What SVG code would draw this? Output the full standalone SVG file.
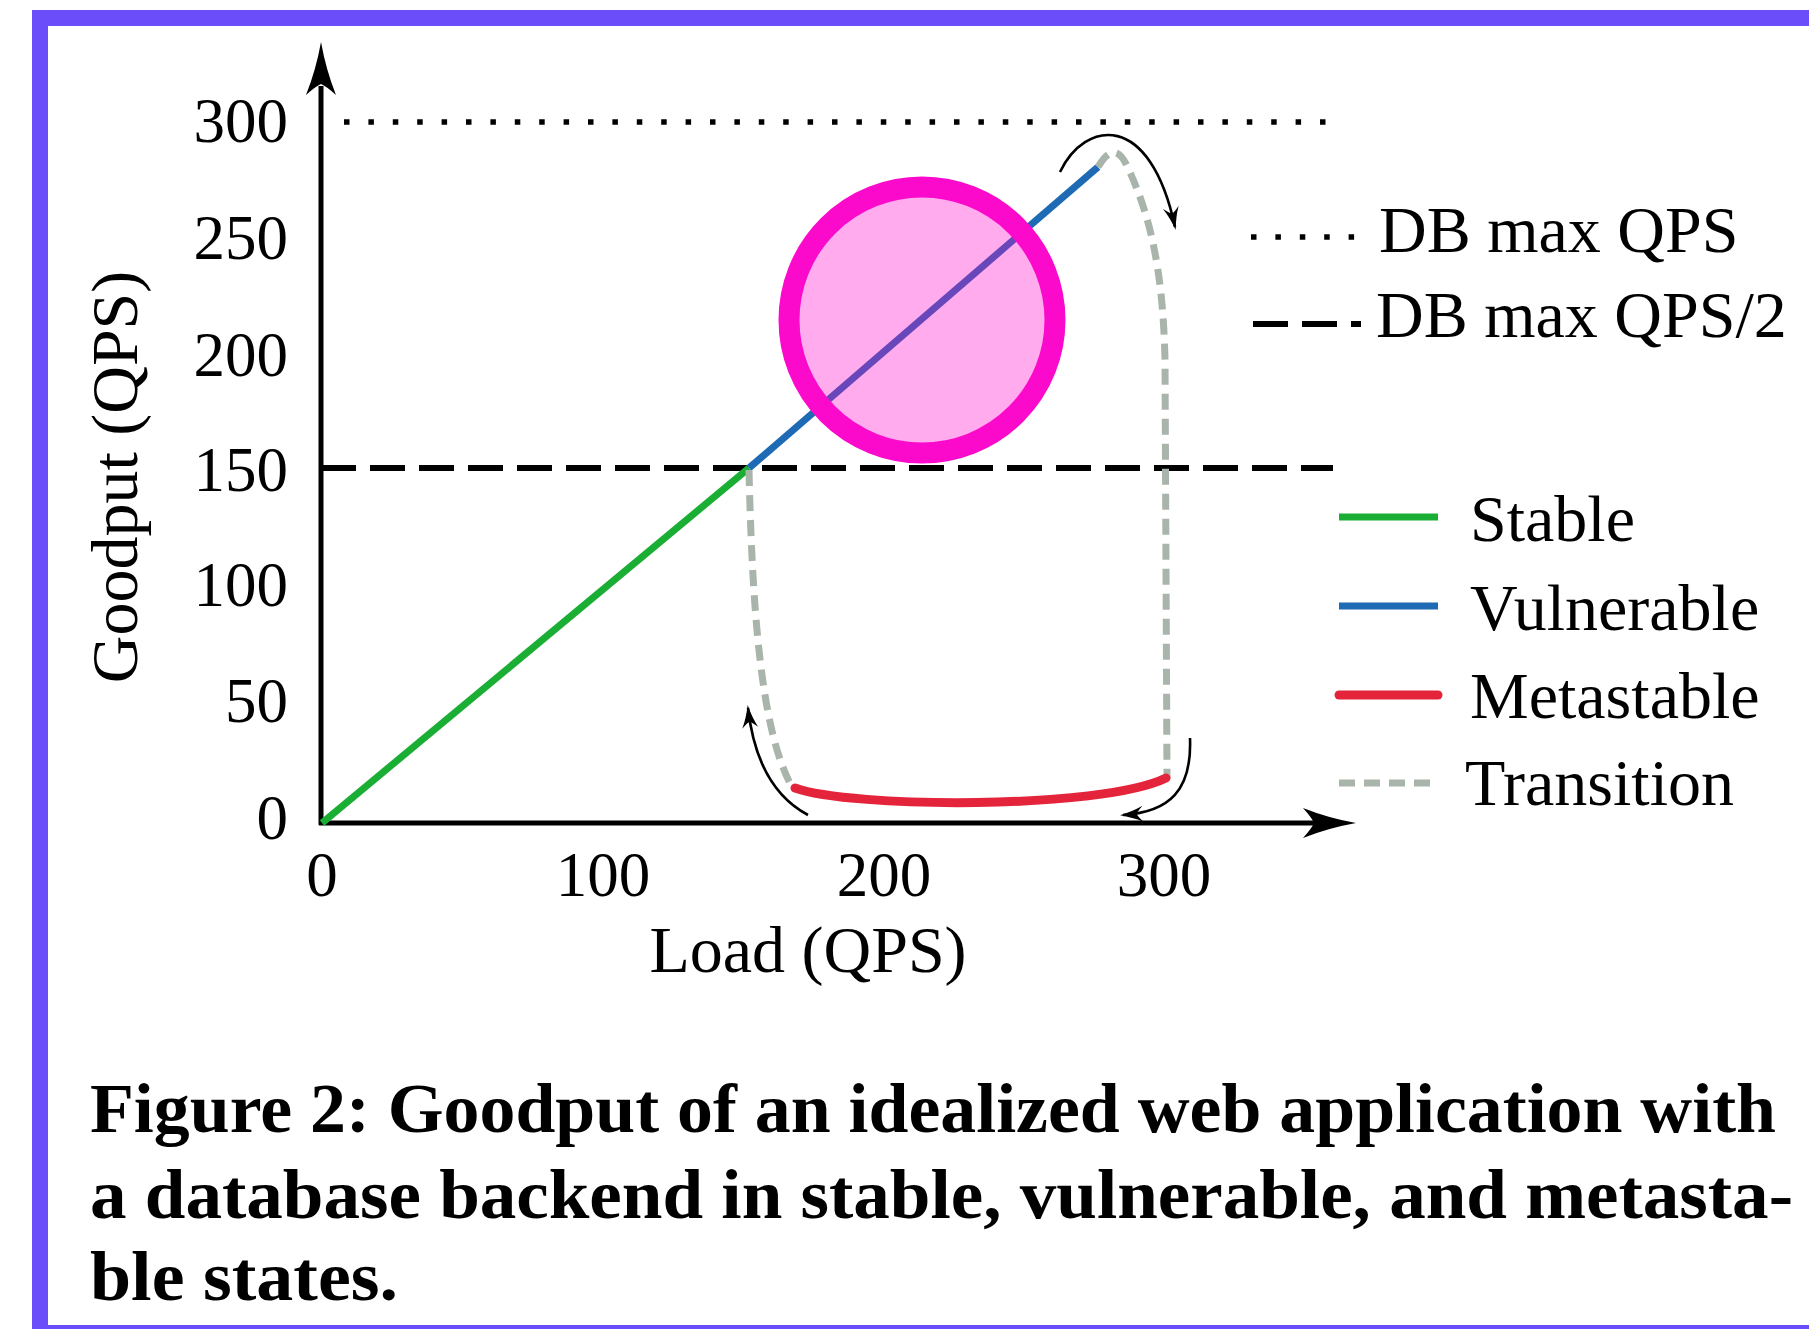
<svg xmlns="http://www.w3.org/2000/svg" width="1809" height="1329" viewBox="0 0 1809 1329">
  <style>
    .lbl { font-family: "Liberation Serif", "Times New Roman", serif; font-size: 63px; fill: #000; }
    .leg { font-family: "Liberation Serif", "Times New Roman", serif; font-size: 66px; fill: #000; }
    .cap { font-family: "Liberation Serif", "Times New Roman", serif; font-size: 70px; font-weight: bold; fill: #000; }
    .axis { stroke: #000; stroke-width: 5; fill: none; }
    .stable { stroke: #1bae34; stroke-width: 7; fill: none; }
    .vuln { stroke: #1f6ab4; stroke-width: 7; fill: none; }
    .meta { stroke: #e4243b; stroke-width: 9; fill: none; stroke-linecap: round; }
    .trans { stroke: #a9b4aa; stroke-width: 7; fill: none; stroke-dasharray: 16 9; }
    .dotted { stroke: #000; stroke-width: 5.5; fill: none; stroke-dasharray: 5.5 18.9; }
    .dashed { stroke: #000; stroke-width: 6; fill: none; stroke-dasharray: 35 14; }
    .flow { stroke: #000; stroke-width: 2.6; fill: none; marker-end: url(#ah); }
  </style>
  <defs>
    <marker id="ah" markerUnits="userSpaceOnUse" viewBox="0 0 24 16" markerWidth="24" markerHeight="16" refX="20" refY="8" orient="auto">
      <path d="M23,8 Q10,5 0,0 Q6,6 6,8 Q6,10 0,16 Q10,11 23,8 Z" fill="#000"/>
    </marker>
  </defs>

  <rect id="frame" x="40" y="18" width="1810" height="1315" fill="#fff" stroke="#6b4dfa" stroke-width="16"/>

  <g id="axes">
    <line class="axis" x1="321" y1="825" x2="321" y2="86"/>
    <path d="M321,42 Q326,70 336,95 Q326,86 321,84 Q316,86 306,95 Q316,70 321,42 Z" fill="#000"/>
    <line class="axis" x1="319" y1="823" x2="1316" y2="823"/>
    <path d="M1356,823 Q1328,828 1303,838 Q1312,828 1314,823 Q1312,818 1303,808 Q1328,818 1356,823 Z" fill="#000"/>
  </g>

  <g id="y-ticks">
    <text class="lbl" x="288" y="142" text-anchor="end">300</text>
    <text class="lbl" x="288" y="259" text-anchor="end">250</text>
    <text class="lbl" x="288" y="376" text-anchor="end">200</text>
    <text class="lbl" x="288" y="491" text-anchor="end">150</text>
    <text class="lbl" x="288" y="606" text-anchor="end">100</text>
    <text class="lbl" x="288" y="722" text-anchor="end">50</text>
    <text class="lbl" x="288" y="839" text-anchor="end">0</text>
  </g>
  <g id="x-ticks">
    <text class="lbl" x="322" y="896" text-anchor="middle">0</text>
    <text class="lbl" x="603" y="896" text-anchor="middle">100</text>
    <text class="lbl" x="884" y="896" text-anchor="middle">200</text>
    <text class="lbl" x="1164" y="896" text-anchor="middle">300</text>
  </g>
  <g id="axis-titles">
    <text class="leg" x="808" y="972" text-anchor="middle">Load (QPS)</text>
    <text class="leg" transform="translate(137,477) rotate(-90)" text-anchor="middle">Goodput (QPS)</text>
  </g>

  <g id="reference-lines">
    <line class="dotted" x1="344" y1="122" x2="1326" y2="122"/>
    <line class="dashed" x1="321" y1="468" x2="1333" y2="468"/>
  </g>

  <g id="curves">
    <line id="stable-line" class="stable" x1="322" y1="823" x2="749" y2="468"/>
    <line id="vulnerable-line" class="vuln" x1="749" y1="468" x2="1098" y2="167"/>
    <path id="transition-left" class="trans" d="M749,470 C752,600 760,730 792,787"/>
    <path id="transition-right" class="trans" d="M1098,167 C1108,150 1118,145 1128,168 C1150,215 1163,270 1165,360 L1167,778"/>
    <path id="metastable-curve" class="meta" d="M795,788 C850,808 1100,810 1166,778"/>
  </g>

  <g id="connectors">
    <path class="flow" d="M1060,172 C1085,120 1150,110 1175,227"/>
    <path class="flow" d="M1190,738 C1192,790 1170,812 1123,815"/>
    <path class="flow" d="M808,815 C780,800 755,770 748,708"/>
  </g>

  <g id="highlight">
    <circle cx="922" cy="320" r="133" fill="#ff00cc" fill-opacity="0.33" stroke="#fc0acb" stroke-width="21"/>
  </g>

  <g id="legend">
    <line class="dotted" x1="1251" y1="237" x2="1360" y2="237" stroke-dasharray="5 20.5"/>
    <text class="leg" x="1379" y="252">DB max QPS</text>
    <line class="dashed" x1="1253" y1="324" x2="1361" y2="324"/>
    <text class="leg" x="1376" y="337">DB max QPS/2</text>
    <line class="stable" x1="1339" y1="517" x2="1438" y2="517"/>
    <text class="leg" x="1470" y="541">Stable</text>
    <line class="vuln" x1="1339" y1="606" x2="1438" y2="606"/>
    <text class="leg" x="1470" y="630">Vulnerable</text>
    <line class="meta" x1="1339" y1="695" x2="1438" y2="695" stroke-linecap="butt" stroke-width="7"/>
    <text class="leg" x="1470" y="718">Metastable</text>
    <line class="trans" x1="1339" y1="783" x2="1434" y2="783"/>
    <text class="leg" x="1465" y="805">Transition</text>
  </g>

  <g id="caption">
    <text class="cap" x="90" y="1132" textLength="1686" lengthAdjust="spacingAndGlyphs">Figure 2: Goodput of an idealized web application with</text>
    <text class="cap" x="90" y="1218" textLength="1703" lengthAdjust="spacingAndGlyphs">a database backend in stable, vulnerable, and metasta-</text>
    <text class="cap" x="90" y="1300" textLength="308" lengthAdjust="spacingAndGlyphs">ble states.</text>
  </g>
</svg>
